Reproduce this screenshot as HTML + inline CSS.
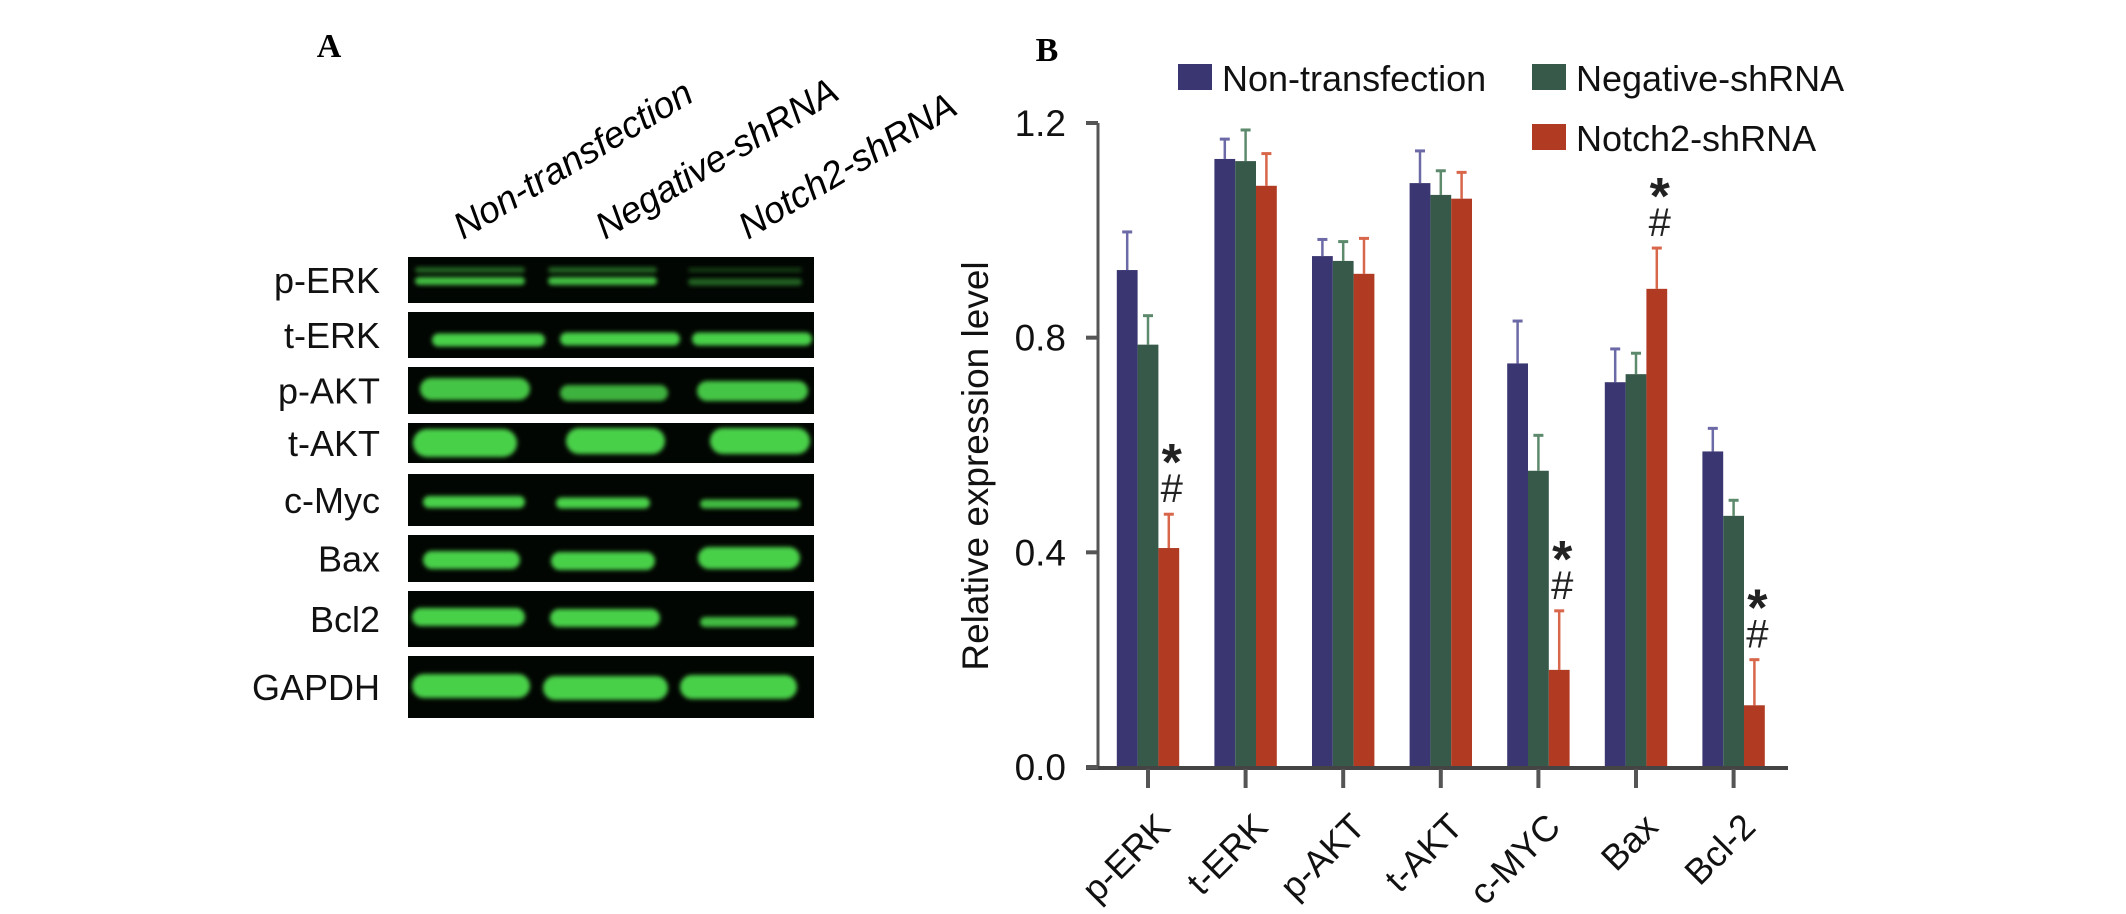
<!DOCTYPE html>
<html><head><meta charset="utf-8"><title>Notch2 figure</title>
<style>
html,body{margin:0;padding:0;background:#fff;}
svg{display:block;}
text{font-family:"Liberation Sans",Arial,sans-serif;}
</style></head>
<body>
<svg id="fig" width="2126" height="914" viewBox="0 0 2126 914" xmlns="http://www.w3.org/2000/svg">
<defs>
<filter id="blur" x="-10%" y="-50%" width="120%" height="200%"><feGaussianBlur stdDeviation="2.2"/></filter>
</defs>
<g>
<text x="329" y="57" font-weight="bold" font-size="34" text-anchor="middle" style="font-family:'Liberation Serif',serif">A</text>
<g font-size="37" font-style="italic" fill="#000">
<text transform="translate(463,240) rotate(-31)">Non-transfection</text>
<text transform="translate(605,240) rotate(-31)">Negative-shRNA</text>
<text transform="translate(748,240) rotate(-31)">Notch2-shRNA</text>
</g>
<g id="blot"></g>
</g>
<g id="chart">
<text x="1047" y="61" font-weight="bold" font-size="34" text-anchor="middle" style="font-family:'Liberation Serif',serif">B</text>
<text transform="translate(988,466) rotate(-90)" font-size="37" text-anchor="middle" fill="#111">Relative expression level</text>
<g>
<g>
<rect x="1178" y="64" width="34" height="26" fill="#3a3672"/>
<text x="1222" y="91" font-size="36" fill="#111">Non-transfection</text></g>
<g>
<rect x="1532" y="64" width="34" height="26" fill="#37594a"/>
<text x="1576" y="91" font-size="36" fill="#111">Negative-shRNA</text></g>
<g>
<rect x="1532" y="124" width="34" height="26" fill="#b03a22"/>
<text x="1576" y="151" font-size="36" fill="#111">Notch2-shRNA</text></g>
</g>
</g>
</svg>
<script>
const categories = ["p-ERK","t-ERK","p-AKT","t-AKT","c-MYC","Bax","Bcl-2"];
const seriesNames = ["Non-transfection","Negative-shRNA","Notch2-shRNA"];
const nonTransfection = [0.926,1.133,0.952,1.088,0.752,0.717,0.588];
const negativeShRNA   = [0.787,1.129,0.943,1.066,0.552,0.732,0.468];
const notch2ShRNA     = [0.408,1.083,0.919,1.059,0.181,0.891,0.115];
const errNon  = [0.071,0.037,0.031,0.060,0.079,0.062,0.043];
const errNeg  = [0.054,0.058,0.036,0.045,0.066,0.039,0.029];
const errNot  = [0.063,0.060,0.066,0.049,0.110,0.076,0.085];
const significant = [true,false,false,false,true,true,true];
const yTicks = [0.0,0.4,0.8,1.2];
const yTickLabels = ["0.0","0.4","0.8","1.2"];

const NS="http://www.w3.org/2000/svg";
const svg=document.getElementById('chart');
function mk(tag,attrs,parent){const e=document.createElementNS(NS,tag);for(const k in attrs)e.setAttribute(k,attrs[k]);(parent||svg).appendChild(e);return e;}

const axisX=1098, y0=767, yMaxPx=123, yMax=1.2;
const firstCenter=1148, groupStep=97.6, barW=20.8;
function yScale(v){return y0-(v/yMax)*(y0-yMaxPx);}
function xCenter(i){return firstCenter+i*groupStep;}

const colors=["#3a3672","#37594a","#b03a22"];
const errColors=["#6c6aa6","#5d8a6c","#d8664a"];
const series=[nonTransfection,negativeShRNA,notch2ShRNA];
const errs=[errNon,errNeg,errNot];

series.forEach((vals,s)=>{
  vals.forEach((v,i)=>{
    const x=xCenter(i)-1.5*barW+s*barW;
    const top=yScale(v);
    const eTop=yScale(v+errs[s][i]);
    const cx=x+barW/2;
    const el=mk('line',{x1:cx,x2:cx,y1:top,y2:eTop,stroke:errColors[s],'stroke-width':2.5});
    
    
    const cap=mk('line',{x1:cx-5,x2:cx+5,y1:eTop,y2:eTop,stroke:errColors[s],'stroke-width':3});
    
    
    const r=mk('rect',{x:x,y:top,width:barW,height:y0-top,fill:colors[s]});
    
    
  });
});
significant.forEach((sig,i)=>{
  if(!sig)return;
  const cx=xCenter(i)+barW+3;
  const eTop=yScale(notch2ShRNA[i]+errNot[i]);
  const h=mk('text',{x:cx,y:eTop-12,'font-size':40,'text-anchor':'middle',fill:'#222'});
  h.textContent='#';
  
  
  const a=mk('text',{x:cx,y:eTop-34,'font-size':52,'font-weight':'bold','text-anchor':'middle',fill:'#222'});
  a.textContent='*';
  
  
});
const ya=mk('line',{x1:axisX,x2:axisX,y1:yMaxPx,y2:y0+2,stroke:'#555','stroke-width':3});


const xa=mk('line',{x1:1086,x2:1788,y1:y0+1,y2:y0+1,stroke:'#444','stroke-width':4});


yTicks.forEach((t,k)=>{
  const y=yScale(t);
  const tk=mk('line',{x1:axisX-12,x2:axisX,y1:y,y2:y,stroke:'#555','stroke-width':4});
  
  
  const lb=mk('text',{x:1066,y:y+13,'font-size':37,'text-anchor':'end',fill:'#111'});
  lb.textContent=yTickLabels[k];
  
  
});
categories.forEach((c,i)=>{
  const x=xCenter(i);
  const tk=mk('line',{x1:x,x2:x,y1:y0+2,y2:y0+21,stroke:'#555','stroke-width':4});
  
  
  const lb=mk('text',{'font-size':36,'text-anchor':'end',fill:'#111',transform:'translate('+(x+24)+','+(y0+62)+') rotate(-45)'});
  lb.textContent=c;
  
  
});

const blot=document.getElementById('blot');
const blotRows=["p-ERK","t-ERK","p-AKT","t-AKT","c-Myc","Bax","Bcl2","GAPDH"];
const rowTop=[257,312,367,423,474,535,591,656];
const rowBot=[303,358,414,463,526,582,647,718];
const bands=[
 [[415,525,270,6,0.45],[415,525,281,8,0.9],[548,657,270,6,0.45],[548,657,281,8,0.9],[688,802,270,5,0.25],[688,802,282,7,0.45]],
 [[432,545,340,13,1],[560,680,339,13,1],[692,812,339,13,1]],
 [[420,530,389,22,0.95],[560,668,393,16,0.85],[697,808,391,20,0.95]],
 [[413,517,443,28,1],[566,665,441,26,1],[710,810,441,26,1]],
 [[423,525,502,12,1],[556,650,503,11,1],[700,800,504,9,0.9]],
 [[423,520,560,18,1],[551,655,561,18,1],[698,800,558,22,1]],
 [[412,525,617,18,1],[550,660,618,18,1],[700,797,622,10,0.9]],
 [[412,530,686,24,1],[543,668,688,24,1],[680,797,687,24,1]]
];
blotRows.forEach((name,r)=>{
  const bg=mk('rect',{x:408,y:rowTop[r],width:406,height:rowBot[r]-rowTop[r],fill:'#020602'},blot);
  
  
  bands[r].forEach((b,k)=>{
    const band=mk('rect',{x:b[0],y:b[2]-b[3]/2,width:b[1]-b[0],height:b[3],rx:b[3]/2,fill:'#48d04a',opacity:b[4],filter:'url(#blur)'},blot);
    
    
  });
  const lb=mk('text',{x:380,y:(rowTop[r]+rowBot[r])/2+13,'font-size':36,'text-anchor':'end',fill:'#111'},blot);
  lb.textContent=name;
  
  
});
</script>
</body></html>
